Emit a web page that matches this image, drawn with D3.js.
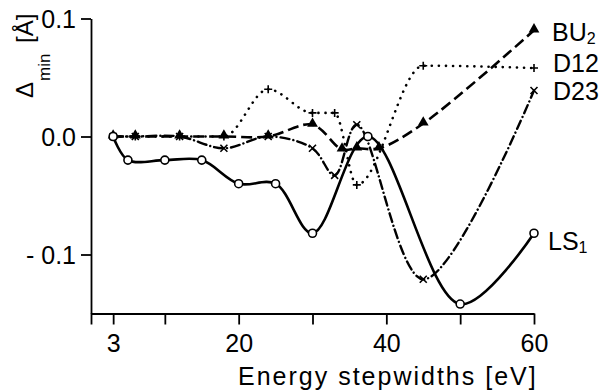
<!DOCTYPE html>
<html>
<head>
<meta charset="utf-8">
<script src="https://cdn.jsdelivr.net/npm/d3@7"></script>
<style>
  body { margin: 0; background: #fff; }
  text { font-family: "Liberation Sans", Arial, sans-serif; fill: #000; }
</style>
</head>
<body>
<div id="chart"></div>
<script>
// Width and height of the SVG
const width = 604;
const height = 392;

// data (x = energy stepwidth in eV, y = Delta min in Angstrom)
const ls1_x = [3, 5, 10, 15, 20, 25, 30, 37.5, 50, 60];
const ls1_y = [0.0, -0.02, -0.02, -0.02, -0.04, -0.04, -0.082, 0.0, -0.142, -0.082];

const bu2_x = [3, 6, 12, 18, 24, 30, 34, 36, 39, 45, 60];
const bu2_y = [0.0, 0.0, 0.0, 0.0, 0.0, 0.01, -0.011, -0.01, -0.01, 0.011, 0.09];

const d12_x = [3, 6, 12, 18, 24, 30, 33, 36, 45, 60];
const d12_y = [0.0, 0.0, 0.0, 0.0, 0.04, 0.02, 0.02, -0.041, 0.06, 0.058];

const d23_x = [3, 6, 12, 18, 24, 30, 33, 36, 45, 60];
const d23_y = [0.0, 0.0, 0.0, -0.01, 0.0, -0.01, -0.033, 0.01, -0.121, 0.039];

const x_ticks = [0, 3, 10, 20, 30, 40, 50, 60];
const x_labels = [3, 20, 40, 60];
const y_ticks = [0.1, 0.0, -0.1];

const svg = d3.select("#chart")
    .append("svg")
    .attr("width", width)
    .attr("height", height);

const x = d3.scaleLinear().domain([0, 60]).range([91, 534]);
const y = d3.scaleLinear().domain([-0.15, 0.1]).range([313.5, 18.5]);

// axes
const xAxis = d3.axisBottom(x)
    .tickValues(x_ticks)
    .tickSize(11)
    .tickSizeOuter(0)
    .tickFormat(d => x_labels.includes(d) ? d : "");
const gx = svg.append("g")
    .attr("transform", "translate(0," + y(-0.15) + ")")
    .call(xAxis);
gx.selectAll("text").attr("y", 38.5).attr("dy", 0)
    .style("font-size", "25px");

const yAxis = d3.axisLeft(y)
    .tickValues(y_ticks)
    .tickSize(10)
    .tickSizeOuter(0)
    .tickFormat(d => d == 0 ? "0.0" : (d < 0 ? "- " + d3.format(".1f")(-d) : d3.format(".1f")(d)));
const gy = svg.append("g")
    .attr("transform", "translate(" + x(0) + ",0)")
    .call(yAxis);
gy.selectAll("text").attr("x", -15).attr("dy", "0.36em")
    .style("font-size", "25px");

svg.selectAll(".domain, .tick line").attr("stroke", "#000").attr("stroke-width", 1.8);

// axis titles
svg.append("text")
    .attr("x", 238).attr("y", 385)
    .style("font-size", "25px")
    .style("letter-spacing", "2px")
    .text("Energy stepwidths [eV]");

svg.append("text")
    .attr("transform", "translate(33,98) rotate(-90)")
    .style("font-size", "24px")
    .text("Δ");
svg.append("text")
    .attr("transform", "translate(50,81) rotate(-90)")
    .style("font-size", "17px")
    .text("min");
svg.append("text")
    .attr("transform", "translate(33,43) rotate(-90)")
    .style("font-size", "24px")
    .text("[Å]");

// lines
const line = d3.line()
    .x(d => x(d[0]))
    .y(d => y(d[1]))
    .curve(d3.curveCatmullRom.alpha(0.5));

const lineMono = d3.line()
    .x(d => x(d[0]))
    .y(d => y(d[1]))
    .curve(d3.curveMonotoneX);

function zipData(xs, ys) {
    return xs.map((v, i) => [v, ys[i]]);
}

const series = [
    { name: "D12", data: zipData(d12_x, d12_y), dash: "0.1,7", width: 2.6, cap: "round", gen: lineMono },
    { name: "D23", data: zipData(d23_x, d23_y), dash: "9,4,0.1,4", width: 2.4, cap: "round", gen: line },
    { name: "BU2", data: zipData(bu2_x, bu2_y), dash: "11,5", width: 2.6, cap: "butt", gen: line },
    { name: "LS1", data: zipData(ls1_x, ls1_y), dash: null, width: 2.6, cap: "round", gen: line }
];

series.forEach(s => {
    svg.append("path")
        .datum(s.data)
        .attr("fill", "none")
        .attr("stroke", "#000")
        .attr("stroke-width", s.width)
        .attr("stroke-linecap", s.cap)
        .attr("stroke-dasharray", s.dash)
        .attr("d", s.gen);
});

// markers
svg.append("g").selectAll("path")
    .data(zipData(d12_x, d12_y))
    .enter().append("path")
    .attr("transform", d => "translate(" + x(d[0]) + "," + y(d[1]) + ")")
    .attr("d", "M-4,0H4M0,-4V4")
    .attr("stroke", "#000").attr("stroke-width", 1.6);

svg.append("g").selectAll("path")
    .data(zipData(d23_x, d23_y))
    .enter().append("path")
    .attr("transform", d => "translate(" + x(d[0]) + "," + y(d[1]) + ")")
    .attr("d", "M-3.5,-3.5L3.5,3.5M-3.5,3.5L3.5,-3.5")
    .attr("stroke", "#000").attr("stroke-width", 1.6);

svg.append("g").selectAll("path")
    .data(zipData(bu2_x, bu2_y))
    .enter().append("path")
    .attr("transform", d => "translate(" + x(d[0]) + "," + (y(d[1]) - 1) + ")")
    .attr("d", d3.symbol().type(d3.symbolTriangle).size(50))
    .attr("fill", "#000");

svg.append("g").selectAll("circle")
    .data(zipData(ls1_x, ls1_y))
    .enter().append("circle")
    .attr("cx", d => x(d[0]))
    .attr("cy", d => y(d[1]))
    .attr("r", 4)
    .attr("fill", "#fff")
    .attr("stroke", "#000")
    .attr("stroke-width", 1.6);

// series labels at the right end
function addLabel(px, py, main, sub) {
    const t = svg.append("text")
        .attr("x", px).attr("y", py)
        .style("font-size", "25px")
        .text(main);
    if (sub) {
        t.append("tspan")
            .attr("dy", 3)
            .style("font-size", "16px")
            .text(sub);
    }
}
addLabel(552, 41, "BU", "2");
addLabel(553, 72, "D12", null);
addLabel(553, 100, "D23", null);
addLabel(548, 250, "LS", "1");
</script>
</body>
</html>
